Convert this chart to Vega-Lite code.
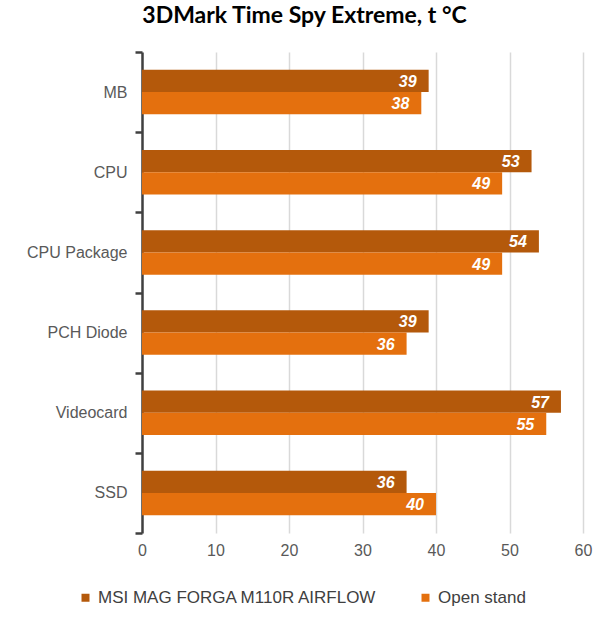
{
  "$schema": "https://vega.github.io/schema/vega-lite/v6.json",
  "autosize": {"type": "none"},
  "width": 441,
  "height": 481,
  "padding": {"left": 142, "top": 52, "right": 23, "bottom": 102},
  "background": "white",
  "title": {
    "text": "3DMark Time Spy Extreme, t °C",
    "font": "Lato",
    "fontWeight": "bold",
    "fontSize": 23,
    "color": "#000000",
    "anchor": "middle",
    "frame": "group",
    "dx": -58,
    "offset": 16
  },
  "data": {
    "values": [
      {"cat": "MB", "series": "MSI MAG FORGA M110R AIRFLOW", "value": 39},
      {"cat": "MB", "series": "Open stand", "value": 38},
      {"cat": "CPU", "series": "MSI MAG FORGA M110R AIRFLOW", "value": 53},
      {"cat": "CPU", "series": "Open stand", "value": 49},
      {"cat": "CPU Package", "series": "MSI MAG FORGA M110R AIRFLOW", "value": 54},
      {"cat": "CPU Package", "series": "Open stand", "value": 49},
      {"cat": "PCH Diode", "series": "MSI MAG FORGA M110R AIRFLOW", "value": 39},
      {"cat": "PCH Diode", "series": "Open stand", "value": 36},
      {"cat": "Videocard", "series": "MSI MAG FORGA M110R AIRFLOW", "value": 57},
      {"cat": "Videocard", "series": "Open stand", "value": 55},
      {"cat": "SSD", "series": "MSI MAG FORGA M110R AIRFLOW", "value": 36},
      {"cat": "SSD", "series": "Open stand", "value": 40}
    ]
  },
  "encoding": {
    "y": {
      "field": "cat",
      "type": "nominal",
      "sort": ["MB", "CPU", "CPU Package", "PCH Diode", "Videocard", "SSD"],
      "scale": {"paddingInner": 0, "paddingOuter": 0},
      "axis": {
        "title": null,
        "tickBand": "extent",
        "domainColor": "#404040",
        "domainWidth": 2.5,
        "tickColor": "#404040",
        "tickWidth": 2.5,
        "tickSize": 7,
        "labelPadding": 8,
        "labelFont": "Liberation Sans",
        "labelFontSize": 16,
        "labelColor": "#595959",
        "grid": false
      }
    },
    "yOffset": {
      "field": "series",
      "type": "nominal",
      "sort": ["MSI MAG FORGA M110R AIRFLOW", "Open stand"],
      "scale": {"paddingInner": 0, "paddingOuter": 0.8}
    },
    "x": {
      "field": "value",
      "type": "quantitative",
      "scale": {"domain": [0, 60], "nice": false},
      "axis": {
        "title": null,
        "values": [0, 10, 20, 30, 40, 50, 60],
        "domain": false,
        "ticks": false,
        "grid": true,
        "gridColor": "#D9D9D9",
        "gridWidth": 1.5,
        "labelFlush": false,
        "labelPadding": 9,
        "labelFont": "Liberation Sans",
        "labelFontSize": 16,
        "labelColor": "#595959"
      }
    }
  },
  "layer": [
    {
      "mark": {"type": "bar"},
      "encoding": {
        "color": {
          "field": "series",
          "type": "nominal",
          "sort": ["MSI MAG FORGA M110R AIRFLOW", "Open stand"],
          "scale": {"range": ["#B4590B", "#E4700E"]},
          "legend": {
            "title": null,
            "orient": "none",
            "direction": "horizontal",
            "columns": 2,
            "legendX": -65,
            "legendY": 537,
            "columnPadding": 39,
            "symbolType": "square",
            "symbolSize": 64,
            "symbolStrokeWidth": 0,
            "labelOffset": 4,
            "labelFont": "Liberation Sans",
            "labelFontSize": 17,
            "labelColor": "#404040",
            "labelLimit": 400
          }
        }
      }
    },
    {
      "mark": {
        "type": "text",
        "align": "right",
        "baseline": "middle",
        "dx": -12,
        "dy": 1,
        "font": "Liberation Sans",
        "fontSize": 16,
        "fontWeight": "bold",
        "fontStyle": "italic",
        "color": "white"
      },
      "encoding": {
        "text": {"field": "value", "type": "quantitative"}
      }
    }
  ],
  "config": {
    "view": {"stroke": null}
  }
}
